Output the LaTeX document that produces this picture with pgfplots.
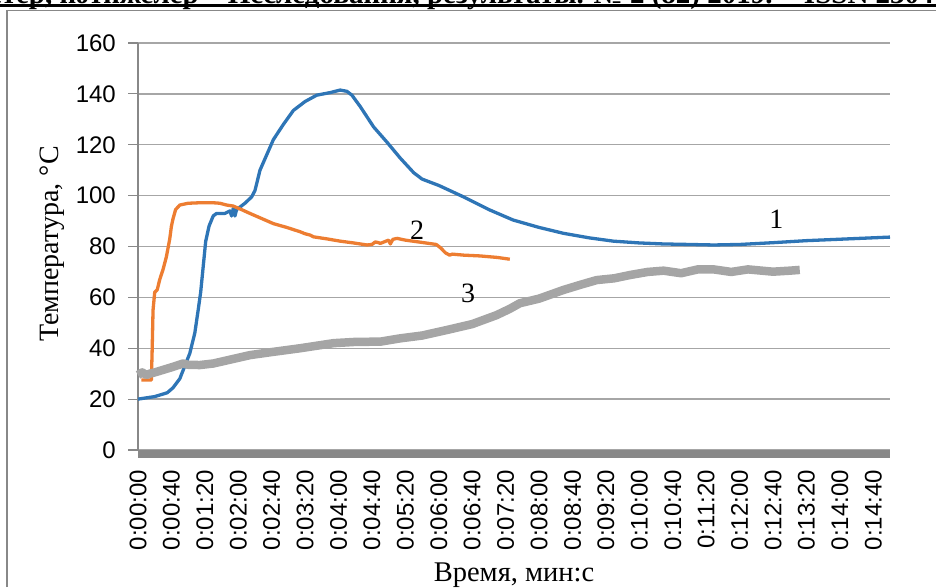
\documentclass[border=0pt]{standalone}
\usepackage{fontspec}
\setmainfont{Liberation Serif}
\newfontfamily\arialf{Liberation Sans}
\usepackage{pgfplots}
\pgfplotsset{compat=1.18}
\definecolor{c1}{HTML}{2E75B6}
\definecolor{c2}{HTML}{ED7D31}
\definecolor{c3}{HTML}{A5A5A5}
\definecolor{gridc}{HTML}{A6A6A6}
\definecolor{axc}{HTML}{888888}
\begin{document}
\begin{tikzpicture}
\path[use as bounding box] (0pt,0pt) rectangle (936pt,587pt);
\clip (0pt,0pt) rectangle (936pt,587pt);
\node[anchor=base west, inner sep=0pt, font=\fontsize{29}{29}\selectfont\bfseries] at (-86pt,583.7pt) {Ізденістер, нәтижелер – Исследования, результаты. № 2 (82) 2019. – ISSN 2304-3334};
\fill[black] (0pt,580.3pt) rectangle (936pt,582.7pt);
\draw[axc, line width=1.2pt] (7pt,0pt) -- (7pt,576.6pt) -- (936pt,576.6pt);
\node[rotate=90, font=\fontsize{28}{28}\selectfont] at (52pt,343pt) {Температура, °C};
\node[anchor=base, font=\fontsize{28.5}{28.5}\selectfont] at (514pt,6pt) {Время, мин:с};
\begin{axis}[
  at={(138pt,137pt)}, anchor=south west, scale only axis,
  width=752pt, height=407pt,
  xmin=0, xmax=900, ymin=0, ymax=160,
  axis x line*=bottom, axis y line*=left,
  x axis line style={draw=none},
  y axis line style={axc, line width=1.3pt},
  ytick={0,20,...,160},
  ymajorgrids, grid style={gridc, line width=1.3pt},
  tick align=outside, major tick length=10pt,
  ytick style={axc, line width=1.2pt},
  xtick style={draw=none},
  xtick={0,40,...,880},
  xticklabels={0:00:00,0:00:40,0:01:20,0:02:00,0:02:40,0:03:20,0:04:00,0:04:40,0:05:20,0:06:00,0:06:40,0:07:20,0:08:00,0:08:40,0:09:20,0:10:00,0:10:40,0:11:20,0:12:00,0:12:40,0:13:20,0:14:00,0:14:40},
  tick label style={font=\arialf\fontsize{24}{24}\selectfont},
  /pgf/number format/assume math mode=true,
  xticklabel style={rotate=90, anchor=east, inner sep=0pt},
  xticklabel shift=10pt,
  yticklabel style={inner sep=0pt},
  yticklabel shift=12pt,
  clip=false,
]
\addplot[c1, line width=3.3pt, line join=round] coordinates {
(0,20)(20,21)(35,22.5)(42,24.5)(50,28)(56,33)(62,38)(68,46)(72,55)(75,62)(78,72)(81,82)(85,88)(90,92)(94,93)(104,93)(110,94)(112,92)(114,95)(116,92)(118,94.5)(122,95.5)(128,97)(136,99.5)(140,102)(146,110)(154,116)(162,122)(174,128)(186,133.5)(200,137)(214,139.5)(230,140.5)(242,141.5)(250,141)(256,139.5)(266,135)(274,131)(282,127)(298,121)(314,114.7)(330,109)(340,106.5)(360,104)(389,99.6)(420,94.5)(449,90.4)(480,87.5)(509,85.2)(540,83.4)(569,82.1)(600,81.4)(629,81)(660,80.8)(689,80.6)(720,80.8)(760,81.5)(800,82.3)(850,83)(900,83.7)
};
\addplot[c2, line width=3.3pt, line join=round] coordinates {
(4,27.5)(16,27.5)(17,40)(18,55)(20,62)(23,63)(26,67)(30,71)(34,76)(38,83)(40,88)(42,91)(45,94.5)(50,96.3)(60,97)(74,97.2)(90,97.2)(98,97)(106,96.3)(114,95.9)(124,94.5)(134,93)(148,91)(162,89)(178,87.5)(194,85.8)(200,85)(206,84.5)(210,83.8)(226,83)(242,82.1)(258,81.4)(274,80.6)(280,80.8)(284,81.8)(288,81.5)(290,81.2)(296,82)(300,82.5)(302,81)(305,82.8)(310,83.2)(320,82.5)(340,81.6)(357,80.8)(362,79.5)(368,77.5)(373,76.6)(376,77)(390,76.6)(409,76.3)(430,75.7)(445,75)
};
\addplot[c3, line width=8.5pt, line join=round] coordinates {
(0,29.5)(5,30.5)(10,29.5)(14,30)(20,30.5)(30,31.5)(40,32.5)(54,34)(60,33.5)(74,33.4)(90,34)(110,35.5)(134,37.3)(160,38.5)(194,40)(214,41)(234,42)(260,42.5)(290,42.6)(314,43.9)(340,45)(370,47.2)(400,49.5)(429,53)(445,55.5)(457,57.7)(480,59.5)(509,62.9)(530,65)(549,66.8)(570,67.5)(589,68.8)(610,70)(629,70.5)(650,69.5)(670,71)(689,71)(710,70)(730,71)(760,70.1)(780,70.5)(792,70.8)
};
\draw[axc, line width=8pt] ([yshift=-4pt]axis cs:0,0) -- ([yshift=-4pt]axis cs:900,0);
\node[font=\fontsize{28}{28}\selectfont] at (axis cs:764,90.8) {1};
\node[font=\fontsize{28}{28}\selectfont] at (axis cs:334,86.5) {2};
\node[font=\fontsize{28}{28}\selectfont] at (axis cs:395,61.7) {3};
\end{axis}
\end{tikzpicture}
\end{document}
